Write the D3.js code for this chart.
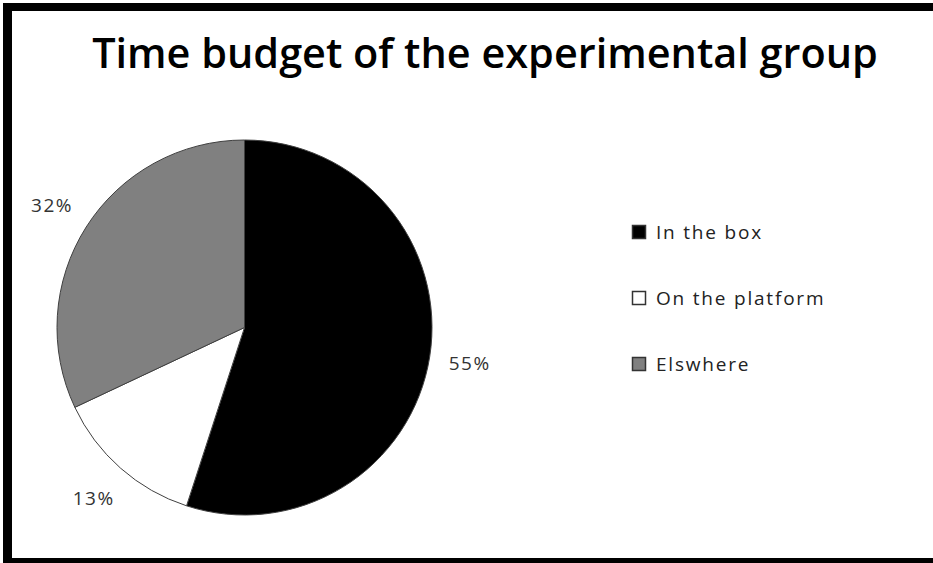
<!DOCTYPE html>
<html lang="en">
<head>
<meta charset="UTF-8">
<title>time-budget-pie</title>
<script src="https://cdn.jsdelivr.net/npm/d3@7"></script>
<style>
  body { margin: 0; background: #fff; }
  svg { display: block; }
  text { font-family: "Open Sans", "DejaVu Sans", sans-serif; }
</style>
</head>
<body>
<script>
// data
let categories = ['In the box', 'On the platform', 'Elswhere'];
let shares = [55, 13, 32];
let labels = ['55%', '13%', '32%'];
let fills = ['#000000', '#ffffff', '#808080'];

let width = 933;
let height = 563;
let cx = 244.5, cy = 327.5, radius = 187.5;

let svg = d3.select('body').append('svg')
  .attr('width', width)
  .attr('height', height);

// frame (left, top and bottom edges only, as in the cropped original)
svg.append('rect').attr('x', 3).attr('y', 3).attr('width', width - 3).attr('height', 8).attr('fill', '#000');
svg.append('rect').attr('x', 3).attr('y', 3).attr('width', 9).attr('height', height - 3).attr('fill', '#000');
svg.append('rect').attr('x', 3).attr('y', 558).attr('width', width - 3).attr('height', 5).attr('fill', '#000');

let title = svg.append('text')
  .attr('x', 485)
  .attr('y', 68)
  .attr('text-anchor', 'middle')
  .attr('font-size', 42)
  .attr('font-weight', 600)
  .attr('fill', '#000')
  .text('Time budget of the experimental group');

// squeeze a little if the installed font runs wider than the original
let tw = title.node().getComputedTextLength();
if (tw > 786) title.attr('font-size', 42 * 786 / tw);

let pie = d3.pie().sort(null).value(d => d);
let arcs = pie(shares);

let arc = d3.arc().innerRadius(0).outerRadius(radius);
let labelArc = d3.arc().innerRadius(228).outerRadius(228);

let g = svg.append('g').attr('transform', 'translate(' + cx + ',' + cy + ')');

g.selectAll('path')
  .data(arcs)
  .enter().append('path')
  .attr('d', arc)
  .attr('fill', (d, i) => fills[i])
  .attr('stroke', '#404040')
  .attr('stroke-width', 1);

g.selectAll('text.pct')
  .data(arcs)
  .enter().append('text')
  .attr('class', 'pct')
  .attr('transform', d => 'translate(' + labelArc.centroid(d) + ')')
  .attr('text-anchor', 'middle')
  .attr('dy', '0.35em')
  .attr('font-size', 19)
  .attr('letter-spacing', 1.5)
  .attr('fill', '#333')
  .text((d, i) => labels[i]);

// legend
let legend = svg.append('g').attr('transform', 'translate(632,232)');
let row = legend.selectAll('g')
  .data(categories)
  .enter().append('g')
  .attr('transform', (d, i) => 'translate(0,' + i * 66 + ')');

row.append('rect')
  .attr('x', 0.5)
  .attr('y', -6.5)
  .attr('width', 13)
  .attr('height', 13)
  .attr('fill', (d, i) => fills[i])
  .attr('stroke', '#333')
  .attr('stroke-width', 1.5);

row.append('text')
  .attr('x', 24)
  .attr('dy', '0.35em')
  .attr('font-size', 19)
  .attr('letter-spacing', 1.8)
  .attr('fill', '#222')
  .text(d => d);
</script>
</body>
</html>
